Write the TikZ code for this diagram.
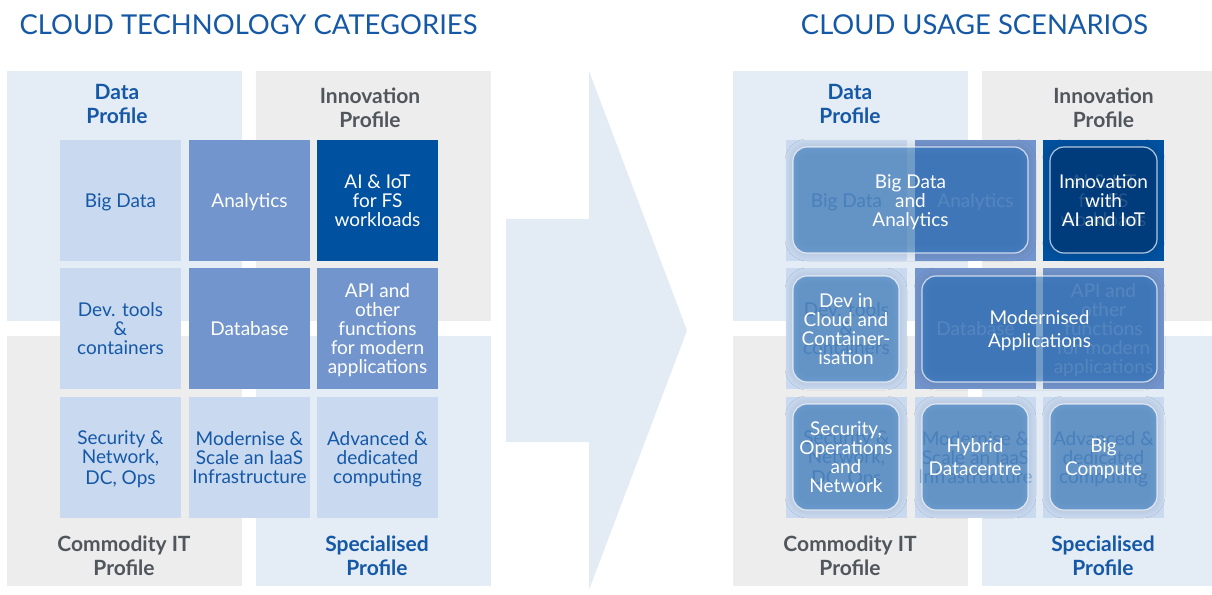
\documentclass[tikz,border=0pt]{standalone}
\usepackage{fontspec}
\setmainfont{Lato}
\usetikzlibrary{shadows.blur}

\definecolor{quadblue}{HTML}{E4ECF5}
\definecolor{quadgrey}{HTML}{EDEDED}
\definecolor{tilelight}{HTML}{C8D9F0}
\definecolor{tilemid}{HTML}{7395CD}
\definecolor{tiledark}{HTML}{0051A0}
\definecolor{textblue}{HTML}{1558A6}
\definecolor{headgrey}{HTML}{50565C}
\definecolor{arrowfill}{HTML}{E3ECF5}
\definecolor{scenblue}{HTML}{1F70C0}
\definecolor{scennavy}{HTML}{003370}

\def\tilefont{\fontsize{19}{19}\selectfont}
\def\headfont{\fontsize{21}{24}\selectfont\bfseries}
% fixed first-line height / last-line depth, so every box centres alike
\def\ts{\rule[-4pt]{0pt}{22pt}}

% four profile quadrants and the 3x3 grid of categories
\newcommand\profilegrid[1]{%
  \fill[quadblue] (7,71) rectangle (242,321);
  \fill[quadgrey] (256,71) rectangle (491,321);
  \fill[quadgrey] (7,336) rectangle (242,586);
  \fill[quadblue] (256,336) rectangle (491,586);
  \node[light] (#1bigdata) at (120.5,200.5) {\ts Big Data\ts};
  \node[mid] (#1analytics) at (249.5,200.5) {\ts Analytics\ts};
  \node[dark] (#1aiiot) at (377.5,200.5) {\ts AI \& IoT\\for FS\\workloads\ts};
  \node[light] (#1devtools) at (120.5,328.5) {\ts Dev. tools\\\&\\containers\ts};
  \node[mid] (#1database) at (249.5,328.5) {\ts Database\ts};
  \node[mid] (#1api) at (377.5,328.5) {\ts API and\\other\\functions\\for modern\\applications\ts};
  \node[light] (#1security) at (120.5,457.5) {\ts Security \&\\Network,\\DC, Ops\ts};
  \node[light] (#1iaas) at (249.5,457.5) {\ts Modernise \&\\Scale an IaaS\\Infrastructure\ts};
  \node[light] (#1advanced) at (377.5,457.5) {\ts Advanced \&\\dedicated\\computing\ts};
}

\begin{document}
\begin{tikzpicture}[x=1pt,y=-1pt,
    tile/.style={minimum width=121pt,minimum height=121pt,inner sep=0pt,align=center,font=\tilefont},
    light/.style={tile,fill=tilelight,text=textblue},
    mid/.style={tile,fill=tilemid,text=white},
    dark/.style={tile,fill=tiledark,text=white},
    head/.style={align=center,font=\headfont,inner sep=0pt},
    title/.style={font=\fontsize{27.4}{27.4}\selectfont,text=textblue,inner sep=0pt},
    softshadow/.style={blur shadow={shadow xshift=0pt,shadow yshift=0pt,
      shadow blur radius=8pt,shadow opacity=30}},
    scen/.style={softshadow,rounded corners=14pt,draw=white,draw opacity=0.7,line width=1.2pt,
      fill=scenblue,fill opacity=0.5,text opacity=1,text=white,align=center,
      font=\tilefont,inner sep=0pt,minimum height=106pt}]

  \useasboundingbox (0,0) rectangle (1212,594);

  %%%%% titles %%%%%
  \node[title] (lefttitle) at (248.5,24.5) {CLOUD TECHNOLOGY CATEGORIES};
  \node[title] (righttitle) at (974.5,24.5) {CLOUD USAGE SCENARIOS};

  %%%%% left: categories %%%%%
  \profilegrid{l}
  \node[head,text=textblue] (ldata) at (117,104) {Data\\Profile};
  \node[head,text=headgrey] (linno) at (370,108) {Innovation\\Profile};
  \node[head,text=headgrey] (lcommodity) at (124,556) {Commodity IT\\Profile};
  \node[head,text=textblue] (lspecial) at (377,556) {Specialised\\Profile};

  %%%%% arrow in between %%%%%
  \fill[arrowfill] (506,219) -- (589,219) -- (589,71) -- (687,330.5)
    -- (589,590) -- (589,442) -- (506,442) -- cycle;

  %%%%% right: scenarios %%%%%
  \begin{scope}[xshift=726pt,every node/.append style={text opacity=0.35}]
    \profilegrid{r}
  \end{scope}
  \node[head,text=textblue] (rdata) at (850,104) {Data\\Profile};
  \node[head,text=headgrey] (rinno) at (1103.5,108) {Innovation\\Profile};
  \node[head,text=headgrey] (rcommodity) at (850,556) {Commodity IT\\Profile};
  \node[head,text=textblue] (rspecial) at (1103,556) {Specialised\\Profile};

  \node[scen,minimum width=235pt] (bigdata) at (910.5,200) {\ts Big Data\\and\\Analytics\ts};
  \node[scen,fill=scennavy,minimum width=107pt] (innovation) at (1103.5,200) {\ts Innovation\\with\\AI and IoT\ts};
  \node[scen,minimum width=106pt] (devcloud) at (846,329) {\ts Dev in\\Cloud and\\Container-\\isation\ts};
  \node[scen,minimum width=235pt] (modern) at (1039.5,329) {\ts Modernised\\Applications\ts};
  \node[scen,minimum width=106pt] (secops) at (846,457) {\ts Security,\\Operations\\and\\Network\ts};
  \node[scen,minimum width=106pt] (hybrid) at (975,457) {\ts Hybrid\\Datacentre\ts};
  \node[scen,minimum width=107pt] (bigcompute) at (1103.5,457) {\ts Big\\Compute\ts};
\end{tikzpicture}
\end{document}
